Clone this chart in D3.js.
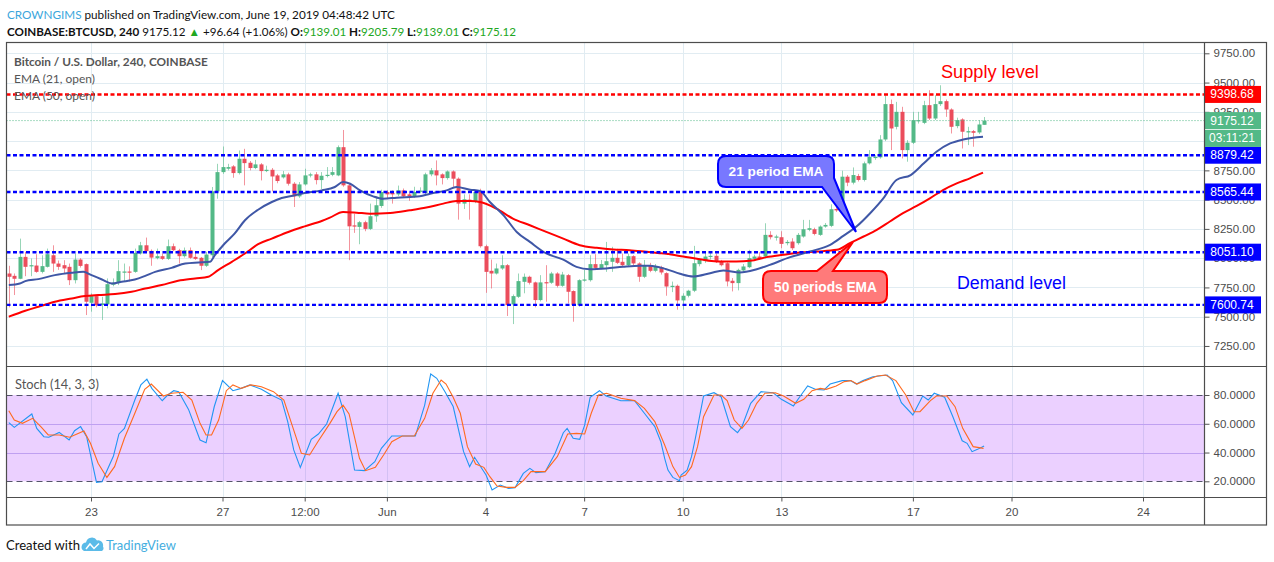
<!DOCTYPE html>
<html>
<head>
<meta charset="utf-8">
<script src="https://cdnjs.cloudflare.com/ajax/libs/d3/7.8.5/d3.min.js"></script>
<style>
  body { margin: 0; background: #fff; }
  svg { display: block; }
</style>
</head>
<body>
<svg id="chart" width="1274" height="562"></svg>
<script>
// 4h candles from May 20 12:00 UTC to Jun 19 04:00 UTC, [open, high, low, close]
const ohlc = [
  [7869,7935,7580,7841],[7849,7869,7685,7824],[7824,8167,7820,8011],[8011,8054,7846,7926],[7935,7997,7846,7940],
  [7937,8034,7875,7883],[7883,8025,7870,7932],[7926,8082,7920,8034],[8025,8110,7883,7954],[7954,7980,7900,7926],
  [7940,7983,7869,7912],[7926,7954,7770,7812],[7812,8040,7784,7988],[7988,8000,7920,7934],[7949,7955,7514,7628],
  [7619,7699,7543,7676],[7676,7685,7580,7597],[7600,7670,7472,7614],[7605,7827,7571,7778],[7773,7827,7760,7790],
  [7790,7983,7770,7889],[7880,7954,7798,7886],[7886,7930,7800,7883],[7883,8082,7875,8045],[8040,8139,8030,8110],
  [8110,8176,8050,8060],[8062,8075,7935,8005],[8000,8082,7990,8017],[8017,8040,7985,7994],[7994,8159,7985,8102],
  [8102,8125,8060,8068],[8068,8080,7954,8017],[8017,8091,8005,8068],[8068,8091,7995,8003],[8011,8054,7985,7994],
  [8003,8010,7898,7935],[7935,8054,7925,8031],[8025,8608,8010,8571],[8571,8806,8508,8735],[8735,8954,8720,8778],
  [8764,8806,8750,8778],[8784,8795,8687,8727],[8727,8920,8715,8849],[8849,8934,8622,8812],[8815,8830,8750,8770],
  [8770,8840,8760,8801],[8801,8812,8664,8744],[8744,8790,8735,8755],[8755,8770,8571,8698],[8707,8720,8640,8659],
  [8690,8745,8680,8716],[8716,8730,8620,8636],[8636,8650,8437,8528],[8528,8650,8515,8630],[8630,8764,8620,8707],
  [8707,8730,8690,8716],[8716,8735,8630,8667],[8667,8735,8590,8704],[8704,8778,8690,8712],[8712,8778,8700,8735],
  [8707,8963,8700,8948],[8948,9095,8610,8622],[8622,8640,7983,8272],[8280,8380,8216,8272],[8267,8318,8119,8307],
  [8307,8320,8230,8250],[8250,8466,8240,8358],[8358,8528,8310,8452],[8446,8585,8430,8565],[8565,8580,8510,8545],
  [8557,8579,8466,8545],[8545,8620,8530,8579],[8579,8595,8515,8528],[8545,8560,8490,8528],[8528,8610,8515,8565],
  [8568,8605,8555,8577],[8557,8730,8545,8716],[8716,8770,8700,8750],[8750,8835,8622,8707],[8716,8725,8630,8684],
  [8684,8750,8670,8741],[8741,8750,8610,8679],[8679,8690,8329,8466],[8466,8545,8420,8503],[8500,8545,8329,8494],
  [8480,8580,8470,8565],[8565,8593,8090,8102],[8102,8115,7704,7883],[7892,7988,7741,7869],[7869,7954,7860,7912],
  [7912,8025,7900,7940],[7940,7950,7506,7599],[7605,7690,7437,7676],[7670,7869,7660,7804],[7798,7869,7700,7841],
  [7841,7850,7775,7790],[7793,7800,7580,7642],[7642,7855,7630,7793],[7795,7940,7628,7790],[7790,7883,7780,7869],
  [7869,7880,7750,7764],[7764,7883,7755,7860],[7855,7865,7614,7713],[7719,7725,7457,7599],[7599,7820,7585,7812],
  [7810,7900,7800,7818],[7812,8025,7800,7949],[7949,8034,7900,7917],[7915,7985,7905,7949],[7940,8139,7883,7974],
  [7969,8097,7883,8003],[8003,8080,7950,7960],[7969,8040,7930,7940],[7940,8040,7930,8017],[8017,8025,7940,7955],
  [7955,7965,7798,7841],[7841,7985,7830,7935],[7935,7960,7880,7892],[7892,7950,7880,7926],[7923,7935,7860,7878],
  [7872,7880,7679,7758],[7758,7800,7710,7764],[7764,7775,7560,7639],[7639,7700,7560,7679],[7679,7730,7665,7722],
  [7722,8105,7710,7957],[7949,8000,7930,7991],[7975,8045,7960,8014],[8010,8050,7990,8020],[8020,8040,7960,7971],
  [7971,7985,7930,7940],[7957,7965,7759,7801],[7807,7830,7716,7787],[7787,7910,7725,7900],[7895,7950,7880,7929],
  [7923,8071,7915,8000],[7994,8030,7980,8014],[8014,8050,7985,7994],[8014,8298,8000,8199],[8199,8230,8160,8179],
  [8180,8200,8150,8185],[8179,8230,8085,8122],[8128,8155,8110,8139],[8142,8170,8070,8085],[8128,8215,8115,8199],
  [8185,8327,8175,8247],[8242,8327,8230,8256],[8247,8260,8195,8207],[8199,8280,8190,8270],[8270,8300,8260,8284],
  [8276,8460,8265,8418],[8420,8460,8395,8408],[8418,8747,8405,8696],[8696,8710,8615,8645],[8645,8775,8630,8710],
  [8702,8720,8655,8668],[8668,8825,8655,8810],[8810,8923,8800,8866],[8855,8880,8840,8866],[8861,9051,8850,9014],
  [9014,9392,9000,9316],[9316,9355,8923,9108],[9122,9335,9100,9250],[9250,9293,8852,8923],[8923,9008,8824,8986],
  [8986,9250,8975,9179],[9170,9250,9150,9179],[9156,9344,9145,9307],[9307,9435,9180,9193],[9193,9392,9180,9316],
  [9316,9477,9300,9341],[9341,9355,9207,9270],[9270,9280,9065,9122],[9128,9200,9110,9179],[9185,9195,8937,9080],
  [9074,9122,8966,9085],[9085,9095,8952,9071],[9074,9179,9060,9142],[9139.01,9205.79,9139.01,9175.12]
];

// EMA readings as [bar index, value]
const ema21 = [
  [0,7770],[2,7784],[3,7804],[5.4,7821],[8.4,7855],[11.5,7875],[13.6,7883],[15.1,7855],[17,7818],[18.8,7784],
  [20.6,7798],[23,7818],[24.9,7849],[26.7,7883],[29.7,7917],[32.2,7954],[34.6,7963],[36.7,7969],[37.6,8025],
  [39.4,8125],[41.2,8210],[43.1,8324],[45.5,8414],[48,8480],[49.8,8514],[52.2,8537],[54,8556],[57.1,8579],
  [59.5,8608],[61,8650],[62.3,8636],[64.1,8579],[66.5,8528],[68.3,8508],[70.8,8517],[75,8528],[76.9,8551],
  [79.9,8579],[81.7,8608],[84.2,8585],[86,8574],[87.8,8480],[90.3,8366],[92.7,8224],[95.1,8139],[98.1,8040],
  [101.2,7988],[103.6,7926],[106,7906],[109,7912],[112.1,7926],[115.2,7935],[117,7935],[120,7906],[122.5,7867],
  [124.9,7844],[128,7872],[130.4,7895],[133.4,7878],[136.5,7906],[138.9,7943],[142.6,8009],[146.2,8057],
  [149.9,8114],[152.3,8190],[154.7,8270],[157.2,8384],[159.6,8511],[162,8668],[164.6,8710],[167,8810],
  [169.3,8909],[171.8,8980],[174.2,9014],[177.8,9037]
];
const ema50 = [
  [0,7500],[3,7551],[5.4,7585],[8.4,7628],[11.5,7656],[13.9,7676],[16.3,7685],[19.4,7693],[22.4,7713],
  [24.9,7741],[27.9,7770],[30.9,7807],[34,7827],[36.4,7841],[38.2,7898],[40.7,7969],[43.1,8040],[45.5,8119],
  [48,8167],[51,8224],[54,8272],[57.1,8318],[58.6,8346],[61,8395],[63.5,8389],[65.9,8380],[69.6,8386],
  [73.2,8409],[76.2,8432],[79.3,8466],[81.7,8488],[84.2,8488],[86,8480],[89,8423],[92,8338],[95.1,8281],
  [98.1,8224],[101.2,8167],[104.2,8111],[107.3,8088],[110.3,8074],[113.3,8068],[116.4,8054],[118.8,8043],
  [120,8037],[123.1,8014],[126.1,7991],[129.2,7972],[132.8,7972],[135.3,7977],[138.3,8009],[141.4,8029],
  [144.4,8048],[147.5,8057],[151.1,8071],[153.5,8128],[156,8185],[158.4,8242],[160.8,8313],[163.2,8384],
  [165.7,8446],[168.1,8511],[170.5,8582],[173,8639],[175.4,8682],[177.8,8730]
];

// Stochastic %K and %D as [bar index, value]
const stochK = [
  [0,60.8],[1,57.5],[4.2,66.8],[5.1,56.8],[6.4,51],[7.3,50.6],[9.2,54],[11,48.7],[12,55.2],[13.1,58],[14.2,51],
  [16,19.3],[17,19.7],[19.1,37.6],[20.1,52.9],[21.1,56.8],[23,76.5],[24.1,87],[25.2,91],[26.1,84.6],[28,76],
  [29,80],[30.1,83],[31,82.3],[32.8,70],[34.9,48.7],[36,46.8],[37.5,72],[39,90],[40.9,83],[42.4,84.6],[44,87],
  [46.1,84],[47.9,80],[49.8,76.5],[50.9,61.5],[52,41.8],[53.2,29.7],[55.2,49.2],[56.5,52.9],[58,59.8],
  [60.1,81.2],[61.4,65],[63.1,27.8],[64.9,27.4],[66.8,33.6],[68,42.9],[69.9,51.5],[71.8,51.5],[74.2,51.5],
  [75.9,73],[77,94.6],[78.1,91.6],[79.6,82.3],[81.1,72],[83,40.6],[84.1,30.2],[85,36.7],[87.1,24.4],[88.2,14],
  [89.7,17.4],[91.2,15.1],[92.4,15.6],[93.9,25.5],[95.1,29],[96.2,26],[97.9,26.7],[99.7,39.4],[101.2,53.8],
  [101.9,56.8],[103,49.9],[104.2,49.2],[105.1,59.1],[106.1,78.4],[107.8,83],[109,79.3],[111.7,76],[114.2,76.1],
  [116,67.3],[117.9,58],[119,47.5],[119.7,36],[120.3,27.8],[121.2,22.7],[122.4,20.4],[122.7,24.4],[123.8,27.8],
  [124.6,37.1],[125.3,49.9],[126.8,79.3],[128.7,81.6],[130,78.8],[131.7,58],[133,53.8],[133.8,58],[135.4,74.2],
  [137.3,82.3],[139.5,81.6],[141,77],[143.2,72.4],[144.3,78.4],[145.8,86.3],[147.3,83.9],[148.8,83.5],
  [149.9,87.6],[152.1,90],[153.6,90],[154.7,87.6],[155.9,90],[157.7,92.7],[160.3,93.9],[161.3,90],[162.9,74.7],
  [165,66.1],[166.8,79.3],[167.8,76.5],[168.9,81.2],[170.8,78.4],[172.3,64.9],[174,48.2],[174.9,46.4],
  [175.8,40.6],[176.8,42.2],[178,44.5]
];
const stochD = [
  [0,69.1],[1,62.6],[2.5,60.3],[4.35,63.8],[5.84,58],[7.2,52.2],[9.2,52.2],[11.1,50.6],[13.7,55],[14.9,46.4],
  [16.3,32.5],[17.9,22.7],[19.3,30.2],[21.1,49.9],[23,67.3],[24.8,83.9],[26,87.6],[28.2,79.3],[29.7,81.2],
  [31.8,81.9],[33.4,76.5],[34.9,60.3],[36,52.2],[37,52.2],[38.3,62.6],[39.7,83],[40.9,87],[42.4,84.6],[44.2,87],
  [46.1,85.8],[48.3,82.3],[50.2,76.5],[51.7,59.1],[53.4,39.4],[54.9,38.3],[56.4,47.5],[58.6,60.3],[59.9,68.4],
  [61,73],[62.1,66.8],[64,36],[65.1,27.4],[66.9,29.7],[68.4,38.3],[69.9,47.5],[71.8,51.5],[74,51.5],[75.9,63.8],
  [77.4,81.2],[78.9,90.4],[79.8,87.6],[81.1,78.4],[82.4,67.3],[83.7,44.1],[85.2,32],[86.7,29.7],[87.8,23.2],
  [89.1,16.7],[90.8,15.8],[92.4,15.8],[93.9,20.4],[95.3,26.7],[97.9,26.7],[100.1,37.1],[102,52.9],[103.6,53.3],
  [105.1,52.9],[106.3,67.3],[107.6,80],[109.1,81.2],[111.7,77.7],[114.2,76.1],[116,70.7],[117.9,61.5],
  [119.7,45.2],[121.2,30.2],[122.4,22.7],[123.5,24.4],[124.6,30.2],[125.7,44.1],[126.8,64.9],[128.7,80],
  [130,80],[131.1,76.1],[132.4,62.6],[133.8,56.8],[135,62.6],[136.5,74.2],[138,81.2],[139.9,81.6],[141.4,79.3],
  [143.6,74.2],[145.1,77],[146.6,83],[148.1,84.6],[149.2,83.9],[151,86.3],[152.5,89.3],[153.7,90],[154.8,87.6],
  [156.3,90],[158.5,93.2],[160,93.9],[161.9,90],[163.7,80],[165.2,68.4],[166.3,68.4],[168.2,76.1],[169.3,79.3],
  [171.2,79.3],[172.7,71.9],[174.1,56.8],[176,44.1],[177.9,42.9]
];

const priceTicks = [7250, 7500, 7750, 8000, 8250, 8500, 8750, 9000, 9250, 9500, 9750];
const stochTicks = [20, 40, 60, 80];
const timeTicks = [
  Date.UTC(2019,4,23), Date.UTC(2019,4,27), Date.UTC(2019,4,29,12), Date.UTC(2019,5,1), Date.UTC(2019,5,4),
  Date.UTC(2019,5,7), Date.UTC(2019,5,10), Date.UTC(2019,5,13), Date.UTC(2019,5,17), Date.UTC(2019,5,20), Date.UTC(2019,5,24)
];
const timeLabels = ["23", "27", "12:00", "Jun", "4", "7", "10", "13", "17", "20", "24"];

const levels = [9398.68, 8879.42, 8565.44, 8051.10, 7600.74];
const levelColors = ["#ff0000", "#0000ff", "#0000ff", "#0000ff", "#0000ff"];
const lastPrice = 9175.12;
const countdown = "03:11:21";

const UP = "#53b987", DOWN = "#eb4d5c";
const font = "'Liberation Sans', Arial, sans-serif";
const uiFont = "Lato, 'Liberation Sans', sans-serif";

const svg = d3.select("#chart");

// scales
const x = d3.scaleUtc()
  .domain([new Date(Date.UTC(2019,4,23)), new Date(Date.UTC(2019,5,24))])
  .range([91, 1143]);
const y = d3.scaleLinear().domain([7500, 9750]).range([316.7, 53.3]);
const ys = d3.scaleLinear().domain([20, 80]).range([481.3, 395]);
const barStart = Date.UTC(2019,4,20,12);
const bx = k => x(new Date(barStart + k * 4 * 3600e3));

const L = 6.5, R = 1204.5, TOP = 42.5, MID = 366.5, BOT = 497.5, AX = 525;

// scale a text so its width matches the picture
function fit(t, w) {
  const len = t.node().getComputedTextLength();
  t.attr("font-size", parseFloat(t.attr("font-size")) * w / len);
  return t;
}

const defs = svg.append("defs");
defs.append("clipPath").attr("id", "mainClip").append("rect")
  .attr("x", L + 0.5).attr("y", TOP + 0.5).attr("width", R - L - 1).attr("height", MID - TOP - 1);
defs.append("clipPath").attr("id", "stochClip").append("rect")
  .attr("x", L + 0.5).attr("y", MID + 0.5).attr("width", R - L - 1).attr("height", BOT - MID - 1);

// grid
const grid = svg.append("g").attr("stroke", "#e1ecf2").attr("stroke-width", 1).attr("shape-rendering", "crispEdges");
grid.selectAll(".hg").data(priceTicks).join("line")
  .attr("x1", L).attr("x2", R).attr("y1", d => Math.round(y(d)) + 0.5).attr("y2", d => Math.round(y(d)) + 0.5);
grid.selectAll(".vg").data(timeTicks).join("line")
  .attr("x1", d => Math.round(x(d)) + 0.5).attr("x2", d => Math.round(x(d)) + 0.5)
  .attr("y1", TOP).attr("y2", BOT);
grid.selectAll(".sg").data([40, 60]).join("line")
  .attr("x1", L).attr("x2", R).attr("y1", d => Math.round(ys(d)) + 0.5).attr("y2", d => Math.round(ys(d)) + 0.5)
  .attr("stroke", "#c9c3ee");

// stoch band
const sp = svg.append("g").attr("clip-path", "url(#stochClip)");
sp.append("rect").attr("x", L).attr("width", R - L)
  .attr("y", ys(80)).attr("height", ys(20) - ys(80))
  .attr("fill", "#9915ff").attr("fill-opacity", 0.2);
sp.selectAll(".bd").data([80, 20]).join("line")
  .attr("x1", L).attr("x2", R).attr("y1", d => Math.round(ys(d)) + 0.5).attr("y2", d => Math.round(ys(d)) + 0.5)
  .attr("stroke", "#55556a").attr("stroke-dasharray", "6,4");
const sline = d3.line().x(d => bx(d[0])).y(d => ys(d[1]));
sp.append("path").datum(stochK).attr("d", sline).attr("fill", "none").attr("stroke", "#2196f3").attr("stroke-width", 1.1);
sp.append("path").datum(stochD).attr("d", sline).attr("fill", "none").attr("stroke", "#ff6a1f").attr("stroke-width", 1.1);

// main pane
const mp = svg.append("g").attr("clip-path", "url(#mainClip)");
const bars = mp.append("g");
bars.selectAll(".wick").data(ohlc).join("line")
  .attr("x1", (d, i) => Math.round(bx(i)) + 0.5).attr("x2", (d, i) => Math.round(bx(i)) + 0.5)
  .attr("y1", d => y(d[1])).attr("y2", d => y(d[2]))
  .attr("stroke", d => d[3] >= d[0] ? UP : DOWN).attr("stroke-opacity", 0.6).attr("stroke-width", 1);
bars.selectAll(".body").data(ohlc).join("rect")
  .attr("x", (d, i) => Math.round(bx(i)) - 1.5).attr("width", 4)
  .attr("y", d => y(Math.max(d[0], d[3])))
  .attr("height", d => Math.max(1.2, Math.abs(y(d[0]) - y(d[3]))))
  .attr("fill", d => d[3] >= d[0] ? UP : DOWN);

const eline = d3.line().x(d => bx(d[0])).y(d => y(d[1])).curve(d3.curveMonotoneX);
mp.append("path").datum(ema50).attr("d", eline).attr("fill", "none").attr("stroke", "#ff0000").attr("stroke-width", 2);
mp.append("path").datum(ema21).attr("d", eline).attr("fill", "none").attr("stroke", "#3f57a6").attr("stroke-width", 2);

// horizontal level drawings
mp.append("line").attr("x1", L).attr("x2", R).attr("y1", y(lastPrice)).attr("y2", y(lastPrice))
  .attr("stroke", UP).attr("stroke-width", 1).attr("stroke-dasharray", "1,2");
mp.selectAll(".lvl").data(levels).join("line")
  .attr("x1", L).attr("x2", R).attr("y1", d => y(d)).attr("y2", d => y(d))
  .attr("stroke", (d, i) => levelColors[i]).attr("stroke-width", 2.4).attr("stroke-dasharray", "4,2.5");

// callouts
const call21 = "M726,156 H826 Q834,156 834,164 V178 L856,232 L822,187 H726 Q718,187 718,179 V164 Q718,156 726,156 Z";
const call50 = "M771,271 H817 L853,242 L833,271 H879 Q887,271 887,279 V295 Q887,303 879,303 H771 Q763,303 763,295 V279 Q763,271 771,271 Z";
svg.append("path").attr("d", call21).attr("fill", "#7878ff").attr("stroke", "#0000ff").attr("stroke-width", 2);
svg.append("path").attr("d", call50).attr("fill", "#ff7a7a").attr("stroke", "#ff0000").attr("stroke-width", 2);
fit(svg.append("text").attr("x", 776).attr("y", 175.5).attr("text-anchor", "middle")
  .attr("font-family", font).attr("font-weight", "bold").attr("font-size", 13).attr("fill", "#fff")
  .text("21 period EMA"), 95);
fit(svg.append("text").attr("x", 825.5).attr("y", 291.5).attr("text-anchor", "middle")
  .attr("font-family", font).attr("font-weight", "bold").attr("font-size", 13).attr("fill", "#fff")
  .text("50 periods EMA"), 103);

fit(svg.append("text").attr("x", 941).attr("y", 78).attr("font-family", font).attr("font-size", 17)
  .attr("fill", "#ff0000").text("Supply level"), 98);
fit(svg.append("text").attr("x", 957).attr("y", 289).attr("font-family", font).attr("font-size", 17)
  .attr("fill", "#0000ff").text("Demand level"), 109);

// pane legends
const legend = [["Bitcoin / U.S. Dollar, 240, COINBASE", 65.5, 194, "bold"], ["EMA (21, open)", 82.5, 81, "normal"], ["EMA (50, open)", 99.5, 81, "normal"]];
legend.forEach(l => fit(svg.append("text").attr("x", 14).attr("y", l[1]).attr("font-family", uiFont)
  .attr("font-size", 13.5).attr("font-weight", l[3]).attr("fill", "#555").text(l[0]), l[2]));
fit(svg.append("text").attr("x", 15).attr("y", 388.5).attr("font-family", uiFont).attr("font-size", 13.5)
  .attr("fill", "#555").text("Stoch (14, 3, 3)"), 84);

// axes
const axisStyle = g => {
  g.select(".domain").remove();
  g.selectAll(".tick line").attr("stroke", "#555");
  g.selectAll(".tick text").attr("fill", "#4c4c4c").attr("font-family", font).attr("font-size", 11.5);
};
svg.append("g").attr("transform", `translate(${R},0)`)
  .call(d3.axisRight(y).tickValues(priceTicks).tickFormat(d3.format(".2f")).tickSize(5).tickPadding(4))
  .call(axisStyle);
svg.append("g").attr("transform", `translate(${R},0)`)
  .call(d3.axisRight(ys).tickValues(stochTicks).tickFormat(d3.format(".4f")).tickSize(5).tickPadding(4))
  .call(axisStyle);
svg.append("g").attr("transform", `translate(0,${BOT})`)
  .call(d3.axisBottom(x).tickValues(timeTicks.map(d => new Date(d))).tickFormat((d, i) => timeLabels[i]).tickSize(4).tickPadding(6))
  .call(axisStyle);

// price labels on the scale
const tag = (txt, color, cy) => {
  svg.append("rect").attr("x", R).attr("y", cy - 8.5).attr("width", 56.5).attr("height", 17).attr("fill", color);
  svg.append("text").attr("x", 1232).attr("y", cy + 4).attr("text-anchor", "middle").attr("fill", "#fff")
    .attr("font-family", font).attr("font-size", 12).text(txt);
};
levels.forEach((v, i) => tag(d3.format(".2f")(v), levelColors[i], y(v)));
tag(d3.format(".2f")(lastPrice), UP, y(lastPrice));
tag(countdown, UP, y(lastPrice) + 17.8);

// frame
const fr = svg.append("g").attr("stroke", "#4d4d4d").attr("stroke-width", 1.2).attr("fill", "none");
fr.append("rect").attr("x", L).attr("y", TOP).attr("width", 1266.5 - L).attr("height", AX - TOP);
fr.append("line").attr("x1", R).attr("x2", R).attr("y1", TOP).attr("y2", AX);
fr.append("line").attr("x1", L).attr("x2", 1266.5).attr("y1", MID).attr("y2", MID);
fr.append("line").attr("x1", L).attr("x2", 1266.5).attr("y1", BOT).attr("y2", BOT);

// header
const h1 = svg.append("text").attr("x", 7).attr("y", 18.5).attr("font-family", uiFont).attr("font-size", 14.5).attr("fill", "#111");
h1.append("tspan").attr("fill", "#3ba6dc").text("CROWNGIMS");
h1.append("tspan").text(" published on TradingView.com, June 19, 2019 04:48:42 UTC");
fit(h1, 388);

const GREEN = "#22a722";
const h2 = svg.append("text").attr("x", 7).attr("y", 35.5).attr("font-family", uiFont).attr("font-size", 14.5).attr("fill", "#111");
[["COINBASE:BTCUSD, 240", "bold", "#111"], [" 9175.12 ", "normal", "#111"], ["\u25B2", "normal", GREEN],
 [" +96.64 (+1.06%) ", "normal", "#111"], ["O:", "bold", "#111"], ["9139.01", "normal", GREEN],
 [" H:", "bold", "#111"], ["9205.79", "normal", GREEN], [" L:", "bold", "#111"], ["9139.01", "normal", GREEN],
 [" C:", "bold", "#111"], ["9175.12", "normal", GREEN]]
  .forEach(p => h2.append("tspan").attr("font-weight", p[1]).attr("fill", p[2]).text(p[0]));
fit(h2, 510);

// footer
fit(svg.append("text").attr("x", 6).attr("y", 550).attr("font-family", uiFont).attr("font-size", 14.5)
  .attr("fill", "#111").text("Created with"), 74);
svg.append("path").attr("d", "M84,551 a4.5,4.5 0 0 1 2,-8.5 a6,6 0 0 1 11,-2 a5,5 0 0 1 6,6 a3.5,3.5 0 0 1 -1,4.5 Z")
  .attr("fill", "#5bbbe8");
svg.append("polyline").attr("points", "86,549 90,544 94,548.5 99,543.5").attr("fill", "none")
  .attr("stroke", "#fff").attr("stroke-width", 1.5);
fit(svg.append("text").attr("x", 106).attr("y", 550).attr("font-family", uiFont).attr("font-size", 14.5)
  .attr("fill", "#45aee0").text("TradingView"), 70);
</script>
</body>
</html>
